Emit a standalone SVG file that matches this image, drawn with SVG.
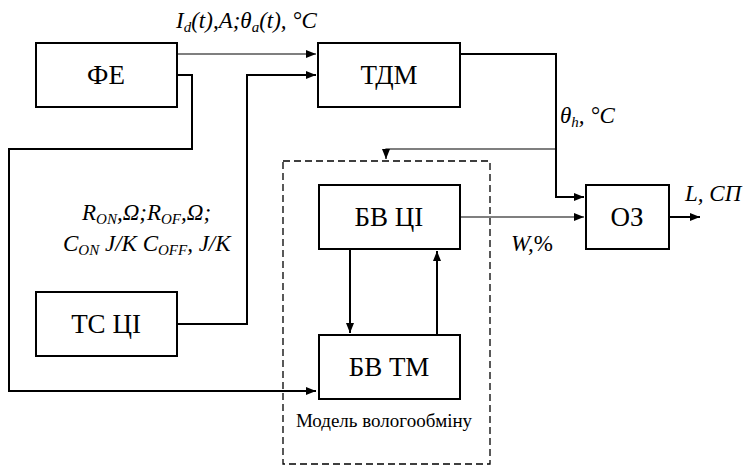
<svg xmlns="http://www.w3.org/2000/svg" width="755" height="466" viewBox="0 0 755 466">
<style>
.box{fill:#fff;stroke:#000;stroke-width:2}
.nt{font-family:"Liberation Serif","Times New Roman",serif;font-size:27px;text-anchor:middle;fill:#000}
.lb{font-family:"Liberation Serif","Times New Roman",serif;font-size:23px;font-style:italic;fill:#000}
.sub{font-size:15px}
.c{fill:none;stroke:#000;stroke-width:2}
.t{fill:none;stroke:#000;stroke-width:1.2}
</style>
<defs>
<marker id="ah" markerWidth="10" markerHeight="8" refX="10" refY="4" orient="auto" markerUnits="userSpaceOnUse">
<path d="M0,0 L10,4 L0,8 Z" fill="#000"/>
</marker>
</defs>
<rect width="755" height="466" fill="#fff"/>
<g id="model">
<rect x="283" y="161" width="207" height="303" fill="none" stroke="#000" stroke-width="1.3" stroke-dasharray="7,4"/>
<text x="384" y="427" font-family="Liberation Serif, Times New Roman, serif" font-size="19" text-anchor="middle">Модель вологообміну</text>
</g>
<g id="connectors">
<path class="t" d="M177,54 L316,54" marker-end="url(#ah)"/>
<path class="c" d="M177,324 L247,324 L247,75 L316,75" marker-end="url(#ah)"/>
<path class="c" d="M177,75 L192,75 L192,149 L9,149 L9,391 L316,391" marker-end="url(#ah)"/>
<path class="c" d="M460,54 L556,54 L556,197 L584,197" marker-end="url(#ah)"/>
<path class="t" d="M556,149 L386,149 L386,159" marker-end="url(#ah)"/>
<path class="t" d="M460,217 L584,217" marker-end="url(#ah)"/>
<path class="c" d="M669,217 L700,217" marker-end="url(#ah)"/>
<path class="c" d="M350,249 L350,333" marker-end="url(#ah)"/>
<path class="c" d="M437,335 L437,251" marker-end="url(#ah)"/>
</g>
<g id="fe"><rect class="box" x="36" y="43" width="141" height="64"/><text class="nt" x="106" y="84">ФЕ</text></g>
<g id="tdm"><rect class="box" x="318" y="43" width="142" height="64"/><text class="nt" x="389" y="84">ТДМ</text></g>
<g id="tsci"><rect class="box" x="36" y="292" width="141" height="64"/><text class="nt" x="106" y="333">ТС ЦІ</text></g>
<g id="bvci"><rect class="box" x="319" y="185" width="141" height="64"/><text class="nt" x="389" y="226">БВ ЦІ</text></g>
<g id="bvtm"><rect class="box" x="319" y="335" width="141" height="64"/><text class="nt" x="389" y="376">БВ ТМ</text></g>
<g id="oz"><rect class="box" x="586" y="185" width="83" height="64"/><text class="nt" x="627" y="226">ОЗ</text></g>
<g id="labels">
<text class="lb" x="176" y="28">I<tspan class="sub" dy="4">d</tspan><tspan dy="-4">(t),A;θ</tspan><tspan class="sub" dy="4">a</tspan><tspan dy="-4">(t), °C</tspan></text>
<text class="lb" x="560" y="123">θ<tspan class="sub" dy="4">h</tspan><tspan dy="-4">, °C</tspan></text>
<text class="lb" x="82" y="220">R<tspan class="sub" dy="4">ON</tspan><tspan dy="-4">,Ω;R</tspan><tspan class="sub" dy="4">OF</tspan><tspan dy="-4">,Ω;</tspan></text>
<text class="lb" x="63" y="251">C<tspan class="sub" dy="4">ON</tspan><tspan dy="-4"> J/K C</tspan><tspan class="sub" dy="4">OFF</tspan><tspan dy="-4">, J/K</tspan></text>
<text class="lb" x="511" y="251">W,<tspan font-style="normal">%</tspan></text>
<text class="lb" x="685" y="201">L, СП</text>
</g>
</svg>
